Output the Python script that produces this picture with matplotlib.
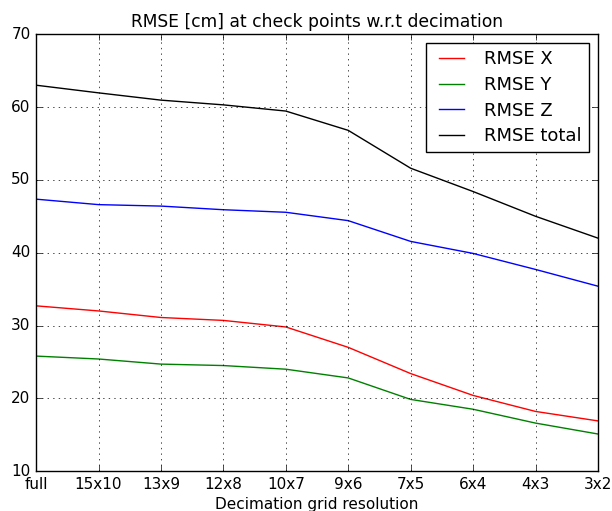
import numpy as np
import matplotlib
matplotlib.use('Agg')
import matplotlib.pyplot as plt

plt.style.use('classic')

labels = ['full', '15x10', '13x9', '12x8', '10x7', '9x6', '7x5', '6x4', '4x3', '3x2']
rmse_x = [32.7, 32.0, 31.1, 30.7, 29.8, 27.0, 23.4, 20.4, 18.2, 16.9]
rmse_y = [25.8, 25.4, 24.7, 24.5, 24.0, 22.8, 19.85, 18.5, 16.6, 15.1]
rmse_z = [47.35, 46.6, 46.4, 45.9, 45.55, 44.4, 41.55, 39.9, 37.7, 35.4]
rmse_total = [63.0, 61.95, 60.95, 60.3, 59.45, 56.8, 51.6, 48.4, 45.0, 42.0]

x = np.arange(len(labels))

fig = plt.figure(figsize=(6.12, 5.11), dpi=100)
ax = fig.add_axes([0.059, 0.078, 0.918, 0.855])
ax.plot(x, rmse_x, 'r', label='RMSE X')
ax.plot(x, rmse_y, 'g', label='RMSE Y')
ax.plot(x, rmse_z, 'b', label='RMSE Z')
ax.plot(x, rmse_total, 'k', label='RMSE total')
ax.set_xticks(x)
ax.set_xticklabels(labels)
ax.tick_params(labelsize=11)
ax.set_xlim(0, len(labels) - 1)
ax.set_ylim(10, 70)
ax.set_title('RMSE [cm] at check points w.r.t decimation', fontsize=12.3)
ax.set_xlabel('Decimation grid resolution', fontsize=11, labelpad=3.5)
ax.grid(True)
ax.legend(fontsize=13, labelspacing=0.42)
fig.savefig('out.png', dpi=100)
